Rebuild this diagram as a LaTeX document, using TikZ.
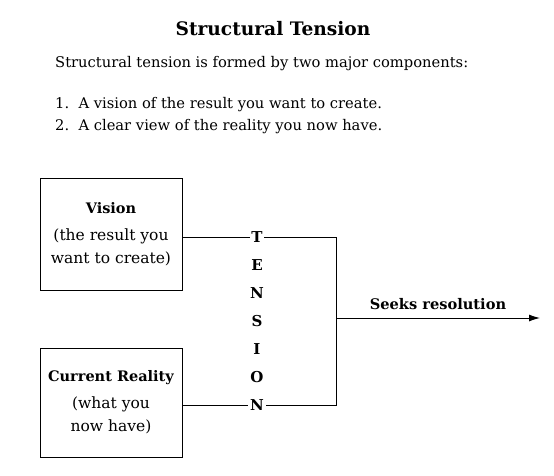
\documentclass[tikz,border=0pt]{standalone}
\usepackage{fontspec}
\setmainfont{DejaVu Serif}
\usetikzlibrary{arrows.meta,positioning,calc}
\tikzset{
  compbox/.style = {draw, line width=0.9pt, minimum width=142pt, align=center,
                    font=\fontsize{15.5}{23}\selectfont},
  letter/.style  = {font=\bfseries\fontsize{15}{16}\selectfont, inner sep=1.5pt},
  textline/.style= {anchor=base west, inner sep=0pt, font=\fontsize{14.7}{17}\selectfont},
  wire/.style    = {draw, line width=0.9pt},
  flow/.style    = {-{Latex[length=11pt,width=7pt]}, line width=0.9pt},
}

\begin{document}
\begin{tikzpicture}[x=1pt,y=-1pt]
  \useasboundingbox (0,0) rectangle (554,475);
  % heading and the two components
  \node[anchor=base, inner sep=0pt, font=\bfseries\fontsize{18.6}{21}\selectfont] (title) at (273,35) {Structural Tension};
  \node[textline] (intro) at (55,67) {Structural tension is formed by two major components:};
  \node[textline] (item1) at (55,108) {1.\ \ A vision of the result you want to create.};
  \node[textline] (item2) at (55,130) {2.\ \ A clear view of the reality you now have.};

  % the two boxes
  \node[compbox,minimum height=112pt] (vision) at (111,234)
    {{\bfseries\fontsize{14.5}{16}\selectfont Vision}\\[4pt](the result you\\want to create)};
  \node[compbox,minimum height=109pt] (reality) at (111,402.5)
    {{\bfseries\fontsize{14.5}{16}\selectfont Current Reality}\\[4pt](what you\\now have)};

  % tension letters
  \foreach \ch [count=\i] in {T,E,N,S,I,O,N}
    \node[letter] (t\i) at (257,{237+28*(\i-1)}) {\ch};

  \coordinate (jtop) at (336,237);
  \coordinate (jbot) at (336,405);
  \coordinate (jmid) at (336,318);
  \coordinate (goal) at (540,318);

  \draw[wire] (vision.east |- t1) -- (t1.west);
  \draw[wire] (reality.east |- t7) -- (t7.west);
  \draw[wire] (t1.east) -- (jtop) -- (jbot) -- (t7.east);
  \draw[flow] (jmid) -- (goal)
    node[midway, above=5pt, inner sep=3pt, font=\bfseries\fontsize{14.6}{16}\selectfont] (seeks) {Seeks resolution};
\end{tikzpicture}
\end{document}
